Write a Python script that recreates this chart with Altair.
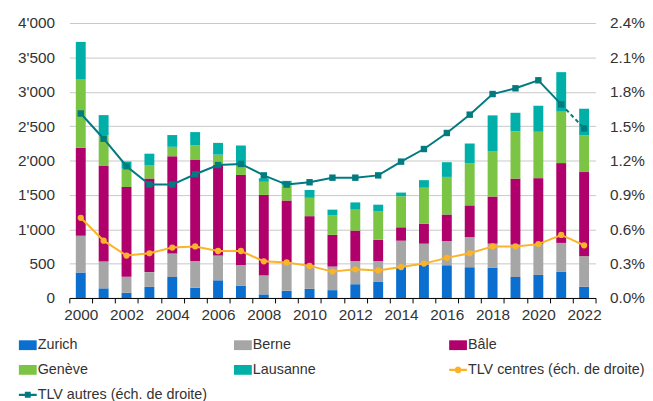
import altair as alt
import pandas as pd

years = list(range(2000, 2023))
# legend domain order (arranged so the 3-column legend reads row by row:
# Zurich, Berne, Bâle / Genève, Lausanne, TLV centres / TLV autres)
series_names = ["Zurich", "Genève", "TLV centres (éch. de droite)", "Berne",
                "Lausanne", "TLV autres (éch. de droite)", "Bâle"]
series_colors = ["#0a6fcf", "#7cc443", "#fbb42a", "#a6a6a6",
                 "#00b0a8", "#007b7f", "#b0006b"]

zurich = [370, 140, 76, 162, 305, 148, 257, 176, 52, 105, 133, 114, 200, 233, 452, 481, 476, 447, 443, 305, 335, 379, 163]
berne = [535, 390, 233, 214, 342, 390, 362, 305, 276, 414, 348, 343, 338, 305, 381, 309, 352, 438, 347, 471, 450, 422, 446]
bale = [1280, 1390, 1305, 1361, 1414, 1475, 1318, 1309, 1171, 899, 709, 462, 443, 309, 195, 291, 386, 462, 686, 961, 958, 1161, 1223]
geneve = [1000, 450, 266, 196, 138, 210, 148, 133, 191, 224, 267, 281, 304, 410, 452, 523, 547, 614, 661, 686, 675, 748, 532]
lausanne = [540, 290, 105, 166, 171, 190, 171, 295, 52, 62, 114, 85, 105, 100, 53, 110, 214, 286, 519, 271, 378, 575, 389]

tlv_centres = [0.70, 0.50, 0.37, 0.39, 0.44, 0.45, 0.41, 0.41, 0.32, 0.31, 0.28, 0.23, 0.25, 0.24, 0.27, 0.30, 0.35, 0.39, 0.45, 0.45, 0.47, 0.55, 0.46]
tlv_autres = [1.61, 1.39, 1.15, 0.99, 0.99, 1.08, 1.16, 1.17, 1.07, 0.99, 1.01, 1.05, 1.05, 1.07, 1.19, 1.30, 1.44, 1.60, 1.78, 1.83, 1.90, 1.69, 1.48]

left_ticks = [0, 500, 1000, 1500, 2000, 2500, 3000, 3500, 4000]
right_ticks = [0, 0.3, 0.6, 0.9, 1.2, 1.5, 1.8, 2.1, 2.4]

bar_series = [("Zurich", zurich), ("Berne", berne), ("Bâle", bale),
              ("Genève", geneve), ("Lausanne", lausanne)]
rows = []
for k, (name, vals) in enumerate(bar_series):
    for y, v in zip(years, vals):
        rows.append({"year": y, "series": name, "value": v, "ord": k})
bar_df = pd.DataFrame(rows)
line_df = pd.DataFrame({"year": years, "centres": tlv_centres, "autres": tlv_autres})

rect_path = "M-1,-0.55H1V0.55H-1Z"
circle_line_path = ("M-1,-0.12H1V0.12H-1Z M-0.38,0 A0.38,0.38 0 1,1 0.38,0 "
                    "A0.38,0.38 0 1,1 -0.38,0Z")
square_line_path = "M-1,-0.12H1V0.12H-1Z M-0.33,-0.33H0.33V0.33H-0.33Z"
shape_expr = (
    f"indexof(datum.value, 'centres') >= 0 ? '{circle_line_path}' : "
    f"(indexof(datum.value, 'autres') >= 0 ? '{square_line_path}' : '{rect_path}')"
)

color_scale = alt.Scale(domain=series_names, range=series_colors)

x_enc = alt.X(
    "year:O",
    scale=alt.Scale(paddingInner=0, paddingOuter=0),
    axis=alt.Axis(
        title=None, labelAngle=0, tickBand="extent", grid=False,
        labelExpr="toNumber(datum.value) % 2 == 0 ? datum.label : ''",
        domainColor="#000000", tickColor="#000000", tickSize=5,
        labelPadding=5, labelFontSize=15.5,
    ),
)

bars = alt.Chart(bar_df).mark_bar(width=10).encode(
    x=x_enc,
    y=alt.Y(
        "value:Q", stack="zero",
        scale=alt.Scale(domain=[0, 4000]),
        axis=alt.Axis(
            title=None, values=left_ticks, domain=False, ticks=False,
            labelPadding=15, labelFontSize=15.5, gridColor="#c8c8c8",
            labelExpr="replace(format(datum.value, ','), ',', \"'\")",
        ),
    ),
    color=alt.Color(
        "series:N", scale=color_scale,
        legend=alt.Legend(
            title=None, orient="none", legendX=-51, legendY=316.5,
            columns=3, gridAlign="all", columnPadding=19.5, rowPadding=9.2,
            symbolSize=324, labelFontSize=14.5, labelOffset=1,
            symbolStrokeWidth=0, labelLimit=300, padding=0,
            symbolType=alt.ExprRef(expr=shape_expr),
        ),
    ),
    order=alt.Order("ord:Q"),
)

right_axis = alt.Axis(
    title=None, orient="right", values=right_ticks, domain=False, ticks=False,
    grid=False, labelPadding=14, labelFontSize=15.5,
    labelExpr="format(datum.value, '.1f') + '%'",
)
r_scale = alt.Scale(domain=[0, 2.4])

base = alt.Chart(line_df)
c_line = base.mark_line(color="#fbb42a", strokeWidth=2).encode(
    x=x_enc, y=alt.Y("centres:Q", scale=r_scale, axis=right_axis))
c_pts = base.mark_point(filled=True, shape="circle", size=40, opacity=1,
                        color="#fbb42a").encode(
    x=x_enc, y=alt.Y("centres:Q", scale=r_scale, axis=right_axis))
a_line = base.transform_filter("datum.year <= 2021").mark_line(
    color="#007b7f", strokeWidth=2).encode(
    x=x_enc, y=alt.Y("autres:Q", scale=r_scale, axis=right_axis))
a_dash = base.transform_filter("datum.year >= 2021").mark_line(
    color="#007b7f", strokeWidth=2, strokeDash=[4, 3]).encode(
    x=x_enc, y=alt.Y("autres:Q", scale=r_scale, axis=right_axis))
a_pts = base.mark_point(filled=True, shape="square", size=42, opacity=1,
                        color="#007b7f").encode(
    x=x_enc, y=alt.Y("autres:Q", scale=r_scale, axis=right_axis))

right = alt.layer(a_line, a_dash, a_pts, c_line, c_pts)

chart = alt.layer(bars, right).resolve_scale(y="independent").properties(
    width=532, height=278,
    padding={"left": 62, "top": 13, "right": 50, "bottom": 102},
    autosize=alt.AutoSizeParams(type="none"),
).configure(
    font="Liberation Sans",
).configure_view(
    stroke=None,
).configure_axis(
    labelColor="#333333", labelFont="Liberation Sans",
).configure_legend(
    labelColor="#333333", labelFont="Liberation Sans",
)

chart.save("out.html", embed_options={"renderer": "svg", "actions": False})
